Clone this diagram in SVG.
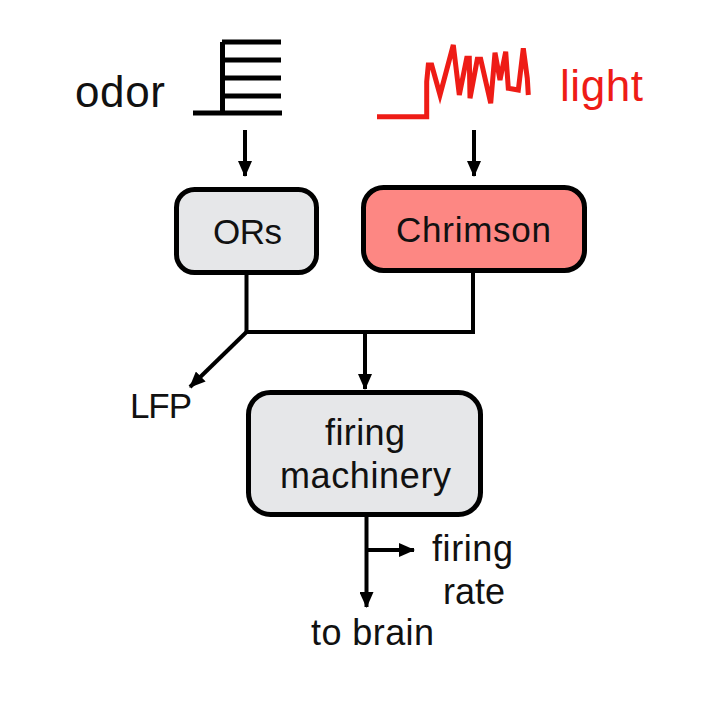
<svg xmlns="http://www.w3.org/2000/svg" width="720" height="718" viewBox="0 0 720 718">
<defs>
<marker id="ah" markerWidth="16" markerHeight="14" viewBox="0 0 16 14" refX="15" refY="7" orient="auto" markerUnits="userSpaceOnUse">
<path d="M0,0 L16,7 L0,14 Z" fill="#000"/>
</marker>
</defs>
<style>
text{font-family:"Liberation Sans",Arial,sans-serif;fill:#111}
.box{stroke:#000;stroke-width:5}
.con{stroke:#000;stroke-width:4;fill:none}
.arr{marker-end:url(#ah)}
</style>
<rect width="720" height="718" fill="#fff"/>
<g id="odor-stimulus">
<path d="M193,113 H282 M222.5,113 V42 M222,42 H281 M222,60 H281 M222,78 H281 M222,96 H281" stroke="#000" stroke-width="5" fill="none"/>
<text x="75" y="107" font-size="44" textLength="90" lengthAdjust="spacing">odor</text>
</g>
<g id="light-stimulus">
<polyline points="377,116.7 426.7,116.7 426.7,81.7 428.3,65 431.7,65 440,95 453.3,45 459.3,95 466.7,58.3 469.3,58.3 470,98.3 477.3,59.3 480.7,59.3 490.7,103.3 495,52.7 500,80 505.7,51.7 508.3,88.3 518.3,90 523.3,48.3 527.3,78.3 528.3,95" stroke="#ee1c16" stroke-width="5" fill="none" stroke-linejoin="miter"/>
<text x="560" y="101" font-size="44" textLength="83" lengthAdjust="spacing" style="fill:#ee1c16">light</text>
</g>
<g id="ORs">
<rect class="box" x="176.5" y="189.5" width="140" height="83" rx="18" fill="#e6e7e9"/>
<text x="213" y="244" font-size="35" textLength="69" lengthAdjust="spacing">ORs</text>
</g>
<g id="Chrimson">
<rect class="box" x="363.5" y="187.5" width="221" height="83" rx="20" fill="#fd8783"/>
<text x="396" y="242" font-size="35" textLength="155" lengthAdjust="spacing">Chrimson</text>
</g>
<g id="firing-machinery">
<rect class="box" x="248.5" y="392.5" width="232" height="122" rx="22" fill="#e6e7e9"/>
<text x="325" y="445" font-size="36" textLength="80" lengthAdjust="spacing">firing</text>
<text x="280" y="488" font-size="36" textLength="171" lengthAdjust="spacing">machinery</text>
</g>
<g id="labels">
<text x="130" y="418" font-size="35" textLength="62" lengthAdjust="spacing">LFP</text>
<text x="432" y="561" font-size="36" textLength="81" lengthAdjust="spacing">firing</text>
<text x="443" y="604" font-size="36" textLength="62" lengthAdjust="spacing">rate</text>
<text x="311" y="645" font-size="36" textLength="123" lengthAdjust="spacing">to brain</text>
</g>
<g id="connectors">
<line class="con arr" x1="245" y1="130" x2="245" y2="176"/>
<line class="con arr" x1="474" y1="130" x2="474" y2="176"/>
<path class="con" d="M246.5,275 V332 H473 V273"/>
<line class="con arr" x1="365" y1="332" x2="365" y2="389"/>
<line class="con arr" x1="246.5" y1="332" x2="190" y2="387"/>
<line class="con arr" x1="366.5" y1="517" x2="366.5" y2="607"/>
<line class="con arr" x1="366.5" y1="550" x2="414" y2="550"/>
</g>
</svg>
